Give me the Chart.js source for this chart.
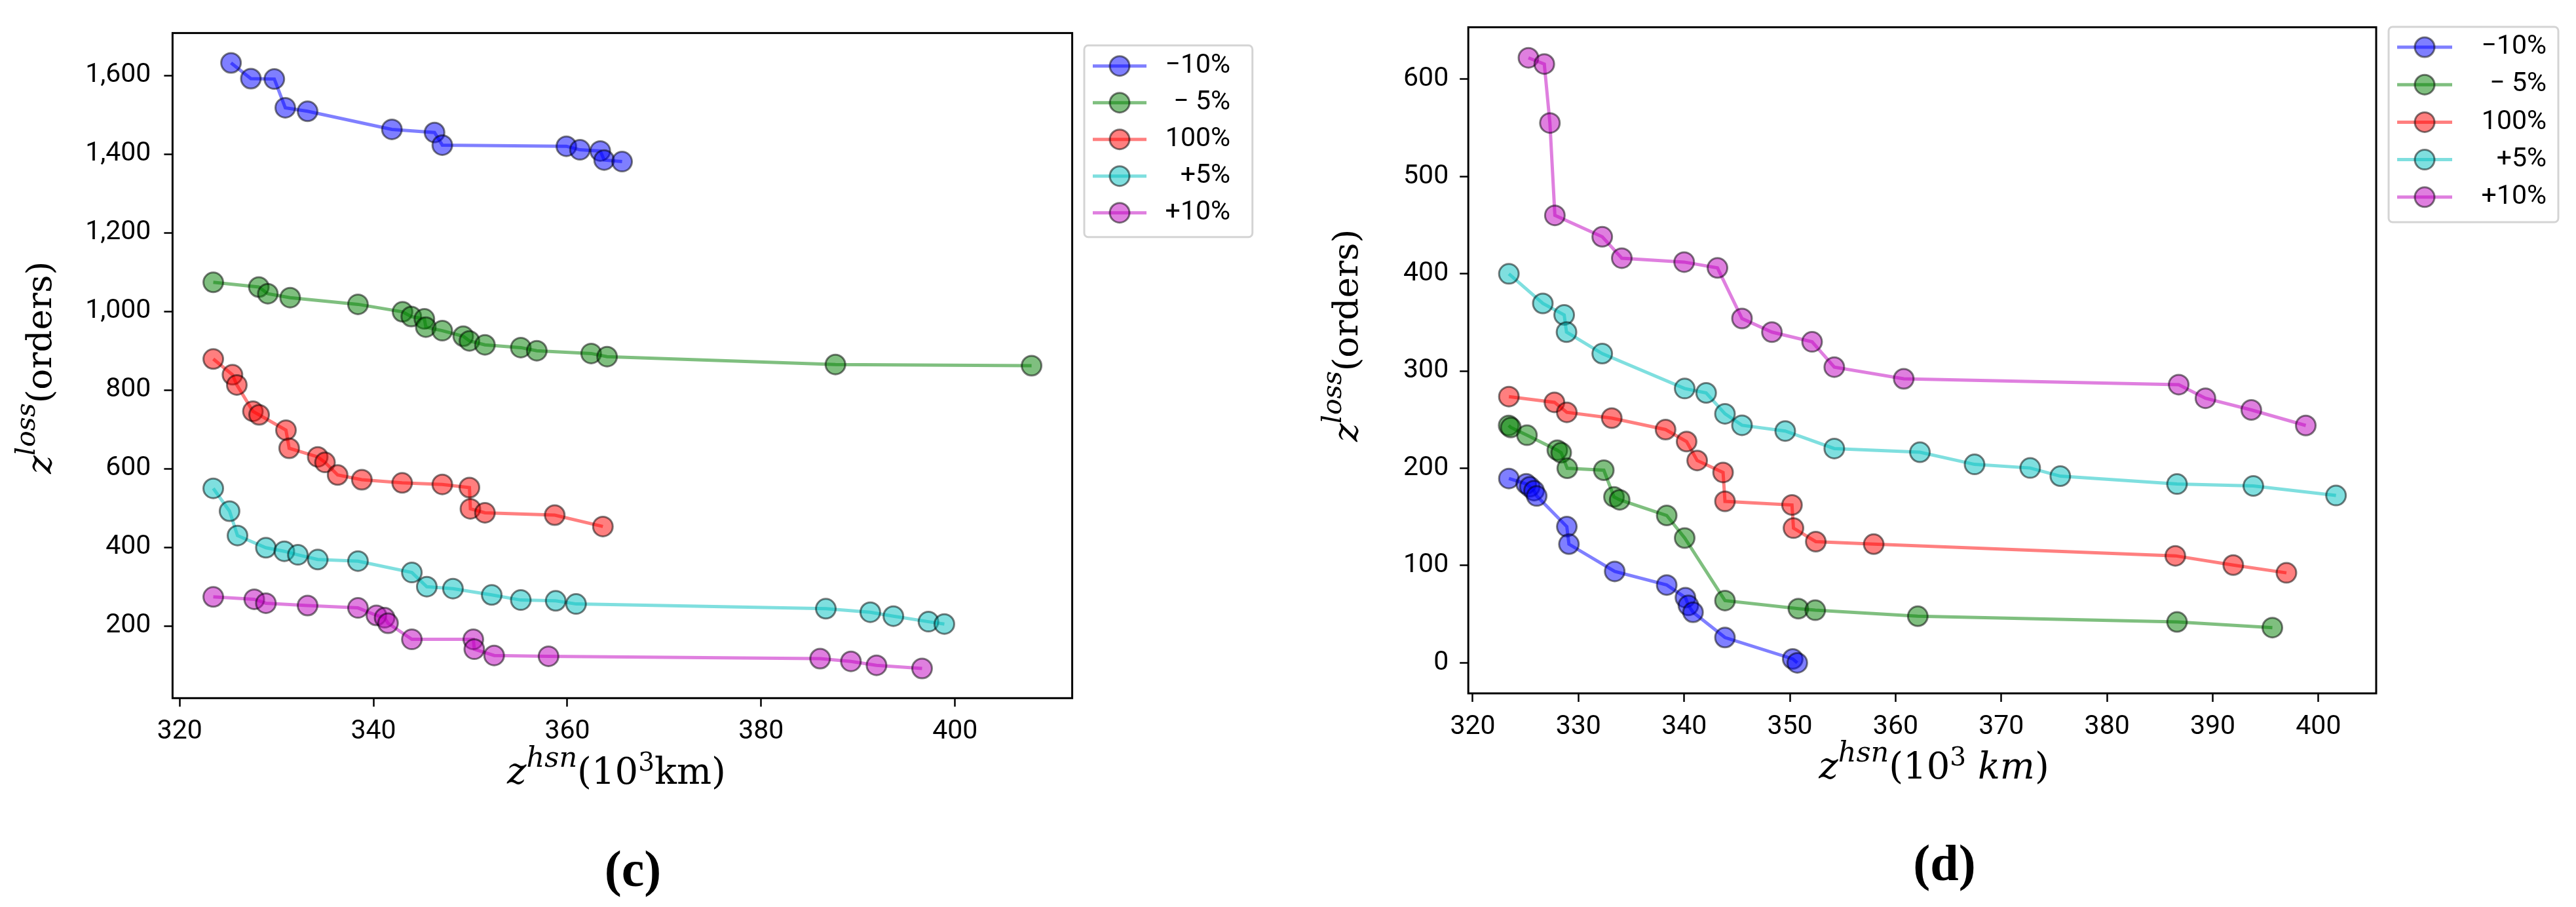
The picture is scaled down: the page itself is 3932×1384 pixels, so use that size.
<!DOCTYPE html>
<html>
<head>
<meta charset="utf-8">
<title>z-loss vs z-hsn</title>
<script src="https://cdn.jsdelivr.net/npm/chart.js@4.4.1/dist/chart.umd.min.js"></script>
<style>
  html, body { margin: 0; padding: 0; background: #fff; }
  #page { position: relative; width: 3932px; height: 1384px; overflow: hidden; background: #fff; }
  canvas { position: absolute; top: 0; }
  #chartC { left: 0; }
  #chartD { left: 1966px; }
  .panel-label {
    position: absolute; width: 200px; text-align: center;
    font: bold 78px "Liberation Serif", "DejaVu Serif", serif; line-height: 78px; color: #000;
  }
</style>
</head>
<body>
<div id="page">
  <canvas id="chartC" width="1966" height="1384"></canvas>
  <canvas id="chartD" width="1966" height="1384"></canvas>
  <div class="panel-label" style="left:866px; top:1287px;">(c)</div>
  <div class="panel-label" style="left:2868px; top:1278px;">(d)</div>
</div>
<script>
// series names and colours, same in both panels
const seriesLabels = ['\u221210%', '\u2212 5%', '100%', '+5%', '+10%'];
const seriesColors = ['0, 0, 255', '0, 128, 0', '255, 0, 0', '0, 191, 191', '191, 0, 191'];

// ---- panel (c) ----
const hsnC_m10  = [325.3, 327.35, 329.77, 330.9, 333.2, 341.9, 346.3, 347.1, 359.9, 361.3, 363.4, 363.8, 365.65];
const lossC_m10 = [1632, 1592, 1591, 1518, 1509, 1463, 1455, 1423, 1420, 1411, 1408, 1385, 1381];

const hsnC_m5  = [323.47, 328.17, 329.1, 331.4, 338.4, 343.0, 343.9, 345.25, 345.4, 347.1, 349.26, 349.9, 351.5, 355.2, 356.85, 362.46, 364.1, 387.66, 407.9];
const lossC_m5 = [1074, 1062, 1045, 1035, 1018, 999, 987, 981, 960, 951, 937, 925, 915, 908, 900, 893, 885, 865, 862];

const hsnC_100  = [323.47, 325.45, 325.9, 327.56, 328.2, 330.97, 331.3, 334.25, 335.0, 336.3, 338.8, 342.96, 347.1, 349.9, 350.0, 351.5, 358.7, 363.67];
const lossC_100 = [879, 839, 813, 746, 737, 698, 652, 630, 616, 584, 572, 564, 560, 552, 498, 488, 482, 453];

const hsnC_p5  = [323.47, 325.15, 325.97, 328.9, 330.8, 332.2, 334.25, 338.4, 343.96, 345.5, 348.2, 352.2, 355.2, 358.8, 360.9, 386.67, 391.26, 393.64, 397.26, 398.9];
const lossC_p5 = [550, 492, 430, 399, 390, 381, 369, 365, 336, 300, 295, 279, 266, 264, 256, 244, 235, 225, 211, 205];

const hsnC_p10  = [323.47, 327.7, 328.9, 333.2, 338.4, 340.3, 341.15, 341.5, 343.96, 350.3, 350.4, 352.45, 358.06, 386.08, 389.26, 391.9, 396.6];
const lossC_p10 = [274, 268, 258, 252, 246, 227, 221, 207, 166, 166, 141, 125, 123, 117, 110, 100, 92];

const xTicksC = [320, 340, 360, 380, 400];
const yTicksC = [200, 400, 600, 800, 1000, 1200, 1400, 1600];

// ---- panel (d) ----
const hsnD_m10  = [323.42, 325.06, 325.4, 325.8, 326.05, 328.9, 329.1, 333.43, 338.35, 340.12, 340.4, 340.84, 343.86, 350.27, 350.7];
const lossD_m10 = [189.5, 184, 181, 177, 171.5, 140, 122, 94, 80, 67, 59, 52, 26, 4, 0];

const hsnD_m5  = [323.4, 323.6, 325.13, 328.0, 328.37, 328.94, 332.4, 333.36, 333.9, 338.35, 340.05, 343.86, 350.8, 352.4, 362.1, 386.62, 395.64];
const lossD_m5 = [244, 242, 234, 218.6, 216, 200, 198, 170.6, 167.6, 151.5, 128.3, 64, 55.7, 54.1, 47.9, 42, 36.2];

const hsnD_100  = [323.42, 327.73, 328.9, 333.15, 338.24, 340.23, 341.23, 343.68, 343.86, 350.2, 350.34, 352.45, 357.93, 386.46, 391.94, 396.97];
const lossD_100 = [273.7, 267.8, 257.5, 251.6, 239.8, 227.5, 208, 195.7, 166, 162.3, 138.5, 124.6, 122, 110, 100.5, 92.5];

const hsnD_p5  = [323.42, 326.63, 328.65, 328.87, 332.25, 340.05, 342.08, 343.86, 345.47, 349.56, 354.2, 362.3, 367.47, 372.73, 375.58, 386.62, 393.84, 401.66];
const lossD_p5 = [399.9, 369.5, 357.7, 340, 317.9, 282, 277.5, 256, 244.2, 238.3, 220.3, 216.5, 204, 200.3, 191.9, 183.8, 181.8, 172];

const hsnD_p10  = [325.27, 326.77, 327.3, 327.77, 332.25, 334.1, 340.0, 343.15, 345.47, 348.3, 352.1, 354.2, 360.77, 386.78, 389.31, 393.65, 398.8];
const lossD_p10 = [622, 615.6, 555, 460, 438, 416, 412, 406, 354, 340, 330, 304, 292, 286, 272, 260, 244];

const xTicksD = [320, 330, 340, 350, 360, 370, 380, 390, 400];
const yTicksD = [0, 100, 200, 300, 400, 500, 600];

const TICK_FONT = { family: 'Roboto, "Open Sans", "Liberation Sans", sans-serif', size: 41 };
const SERIF = '"DejaVu Serif", "Liberation Serif", serif';

function makeDatasets(hsnLists, lossLists) {
    return hsnLists.map((xs, i) => ({
        label: seriesLabels[i],
        data: xs.map((x, j) => ({ x: x, y: lossLists[i][j] })),
        borderColor: `rgba(${seriesColors[i]}, 0.5)`,
        backgroundColor: `rgba(${seriesColors[i]}, 0.5)`,
        pointBackgroundColor: `rgba(${seriesColors[i]}, 0.5)`,
        pointBorderColor: 'rgba(0, 0, 0, 0.5)',
        pointBorderWidth: 3,
        pointRadius: 15,
        pointHoverRadius: 15,
        borderWidth: 5,
        tension: 0,
        fill: false,
        order: 5 - i,   // later series on top, like matplotlib
        clip: false
    }));
}

// black box round the plot area
const framePlugin = {
    id: 'frame',
    afterDatasetsDraw(chart) {
        const { ctx, chartArea: a } = chart;
        ctx.save();
        ctx.strokeStyle = '#000';
        ctx.lineWidth = 3;
        ctx.strokeRect(a.left, a.top, a.right - a.left, a.bottom - a.top);
        ctx.restore();
    }
};

// text with superscripts, centred on (cx, base); rotated for the y title
function drawRich(ctx, parts, cx, base, rotate) {
    ctx.save();
    ctx.translate(cx, base);
    if (rotate) ctx.rotate(-Math.PI / 2);
    let total = 0;
    parts.forEach(p => { ctx.font = p.font; p.w = ctx.measureText(p.text).width; total += p.w; });
    let x = -total / 2;
    ctx.fillStyle = '#000';
    ctx.textBaseline = 'alphabetic';
    ctx.textAlign = 'left';
    parts.forEach(p => {
        ctx.font = p.font;
        ctx.fillText(p.text, x, -(p.rise || 0));
        x += p.w;
    });
    ctx.restore();
}

function titlePlugin(cfg) {
    return {
        id: 'mathTitles',
        afterDraw(chart) {
            drawRich(chart.ctx, cfg.y.parts, cfg.y.x, cfg.y.y, true);
            drawRich(chart.ctx, cfg.x.parts, cfg.x.x, cfg.x.y, false);
        }
    };
}

// legend drawn outside the axes, labels right-aligned
function legendPlugin(box) {
    return {
        id: 'sideLegend',
        afterDraw(chart) {
            const ctx = chart.ctx;
            const r = 6;
            ctx.save();
            ctx.beginPath();
            ctx.moveTo(box.left + r, box.top);
            ctx.arcTo(box.right, box.top, box.right, box.bottom, r);
            ctx.arcTo(box.right, box.bottom, box.left, box.bottom, r);
            ctx.arcTo(box.left, box.bottom, box.left, box.top, r);
            ctx.arcTo(box.left, box.top, box.right, box.top, r);
            ctx.closePath();
            ctx.fillStyle = '#fff';
            ctx.fill();
            ctx.strokeStyle = 'rgba(204, 204, 204, 0.85)';
            ctx.lineWidth = 3;
            ctx.stroke();

            chart.data.datasets.forEach((ds, i) => {
                const y = box.row0 + i * box.rowStep;
                ctx.strokeStyle = ds.borderColor;
                ctx.lineWidth = 5;
                ctx.beginPath();
                ctx.moveTo(box.lineL, y);
                ctx.lineTo(box.lineR, y);
                ctx.stroke();
                ctx.beginPath();
                ctx.arc(box.markX, y, 15, 0, Math.PI * 2);
                ctx.fillStyle = ds.pointBackgroundColor;
                ctx.fill();
                ctx.lineWidth = 3;
                ctx.strokeStyle = ds.pointBorderColor;
                ctx.stroke();
                ctx.fillStyle = '#000';
                ctx.font = `${TICK_FONT.size}px ${TICK_FONT.family}`;
                ctx.textAlign = 'right';
                ctx.textBaseline = 'middle';
                ctx.fillText(ds.label, box.textR, y);
            });
            ctx.restore();
        }
    };
}

function makeChart(canvasId, o) {
    return new Chart(document.getElementById(canvasId), {
        type: 'line',
        data: { datasets: makeDatasets(o.hsn, o.loss) },
        options: {
            responsive: false,
            animation: false,
            devicePixelRatio: 1,
            layout: { padding: { left: 0, top: o.top, right: o.right, bottom: 0 } },
            plugins: { legend: { display: false }, tooltip: { enabled: false } },
            scales: {
                x: {
                    type: 'linear',
                    min: o.xMin,
                    max: o.xMax,
                    afterBuildTicks: s => { s.ticks = o.xTicks.map(v => ({ value: v })); },
                    afterFit: s => { s.height = o.xAxisH; },
                    grid: { drawOnChartArea: false, tickLength: 13, tickWidth: 2.5, tickColor: '#000' },
                    border: { display: false },
                    ticks: { color: '#000', font: TICK_FONT, padding: o.xPad, maxRotation: 0, autoSkip: false }
                },
                y: {
                    type: 'linear',
                    min: o.yMin,
                    max: o.yMax,
                    afterBuildTicks: s => { s.ticks = o.yTicks.map(v => ({ value: v })); },
                    afterFit: s => { s.width = o.yAxisW; },
                    grid: { drawOnChartArea: false, tickLength: 13, tickWidth: 2.5, tickColor: '#000' },
                    border: { display: false },
                    ticks: {
                        color: '#000', font: TICK_FONT, padding: o.yPad, autoSkip: false,
                        callback: v => v.toLocaleString('en-US')
                    }
                }
            }
        },
        plugins: [framePlugin, titlePlugin(o.titles), legendPlugin(o.legend)]
    });
}

const yTitleParts = () => [
    { text: 'z', font: `italic 53px ${SERIF}` },
    { text: 'loss', font: `italic 41px ${SERIF}`, rise: 25 },
    { text: '(orders)', font: `53px ${SERIF}` }
];

makeChart('chartC', {
    hsn: [hsnC_m10, hsnC_m5, hsnC_100, hsnC_p5, hsnC_p10],
    loss: [lossC_m10, lossC_m5, lossC_100, lossC_p5, lossC_p10],
    xTicks: xTicksC, yTicks: yTicksC,
    xMin: 319.27, xMax: 412.09, yMin: 16.5, yMax: 1708,
    top: 50.4, right: 329.4, xAxisH: 318.7, yAxisW: 263.4,
    xPad: 14, yPad: 20,
    titles: {
        y: { x: 78, y: 561, parts: yTitleParts() },
        x: { x: 941, y: 1196, parts: [
            { text: 'z', font: `italic 56px ${SERIF}` },
            { text: 'hsn', font: `italic 43px ${SERIF}`, rise: 26 },
            { text: '(10', font: `56px ${SERIF}` },
            { text: '3', font: `39px ${SERIF}`, rise: 20 },
            { text: 'km)', font: `56px ${SERIF}` }
        ] }
    },
    legend: { left: 1655, top: 69.3, right: 1911.7, bottom: 361.7,
              lineL: 1668, lineR: 1750, markX: 1709, textR: 1878, row0: 100.7, rowStep: 56 }
});

makeChart('chartD', {
    hsn: [hsnD_m10, hsnD_m5, hsnD_100, hsnD_p5, hsnD_p10],
    loss: [lossD_m10, lossD_m5, lossD_100, lossD_p5, lossD_p10],
    xTicks: xTicksD, yTicks: yTicksD,
    xMin: 319.58, xMax: 405.46, yMin: -31.4, yMax: 653.4,
    top: 21, right: 305, xAxisH: 326, yAxisW: 275.2,
    xPad: 14, yPad: 17,
    titles: {
        y: { x: 106, y: 512, parts: yTitleParts() },
        x: { x: 986, y: 1188, parts: [
            { text: 'z', font: `italic 56px ${SERIF}` },
            { text: 'hsn', font: `italic 43px ${SERIF}`, rise: 26 },
            { text: '(10', font: `56px ${SERIF}` },
            { text: '3', font: `39px ${SERIF}`, rise: 20 },
            { text: ' km', font: `italic 56px ${SERIF}` },
            { text: ')', font: `56px ${SERIF}` }
        ] }
    },
    legend: { left: 1680, top: 41, right: 1939, bottom: 339,
              lineL: 1693, lineR: 1777, markX: 1735, textR: 1921, row0: 72, rowStep: 57.2 }
});
</script>
</body>
</html>
